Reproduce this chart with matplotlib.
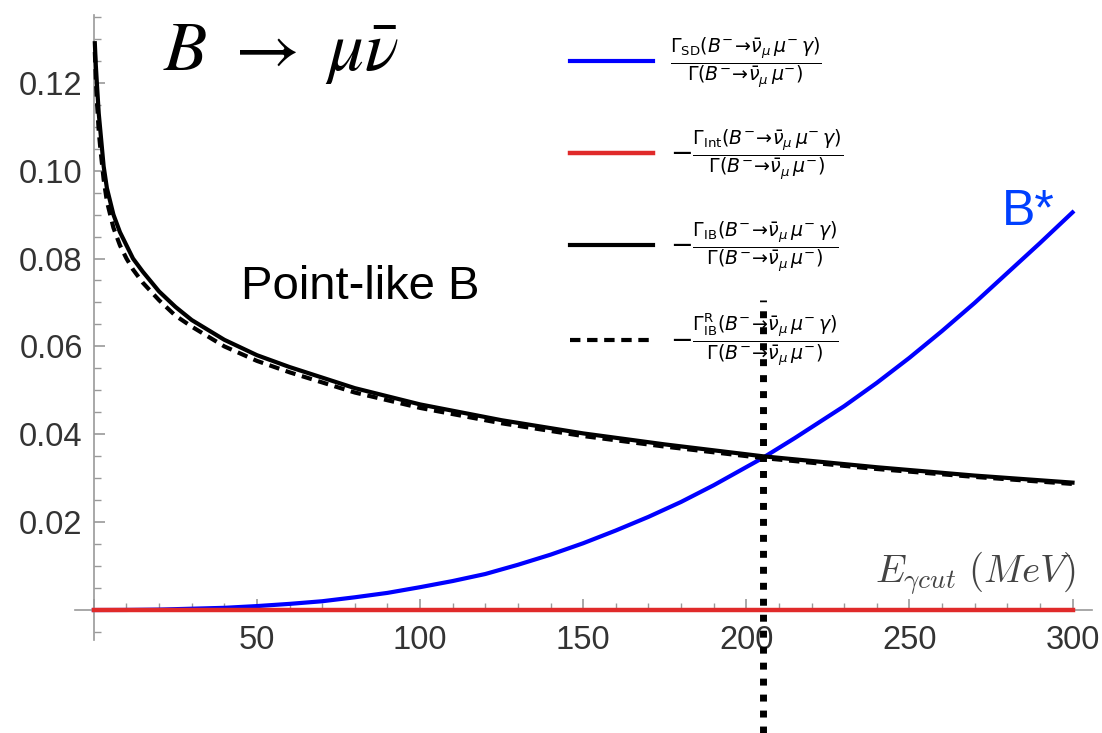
import numpy as np
import matplotlib
matplotlib.use("Agg")
import matplotlib.pyplot as plt
from matplotlib.ticker import MultipleLocator, FuncFormatter

# values
e_sd = [0, 10, 20, 30, 40, 50, 60, 70, 80, 90, 100, 110, 120, 130, 140, 150,
        160, 170, 180, 190, 205, 215, 230, 240, 250, 260, 270, 280, 290, 300]
r_sd = [0, 0.00002, 0.0001, 0.0003, 0.0005, 0.0009, 0.0014, 0.0020, 0.0029,
        0.0039, 0.0052, 0.0066, 0.0082, 0.0103, 0.0126, 0.0152, 0.0181,
        0.0212, 0.0246, 0.0284, 0.0346, 0.0392, 0.0464, 0.0517, 0.0574,
        0.0635, 0.0699, 0.0767, 0.0835, 0.0905]

e_int = [0, 300]
r_int = [0, 0]

e_ib = [0.3, 0.6, 1, 1.5, 2, 3, 4, 6, 8, 10, 12, 15, 20, 25, 30, 40, 50, 60,
        80, 100, 125, 150, 175, 205, 240, 270, 300]
r_ib = [0.129, 0.124, 0.119, 0.113, 0.109, 0.101, 0.096, 0.090, 0.086, 0.083,
        0.080, 0.077, 0.0725, 0.069, 0.066, 0.0615, 0.058, 0.0553, 0.0505,
        0.0468, 0.0432, 0.0402, 0.0377, 0.0350, 0.0325, 0.0306, 0.0290]
r_ib_r = [0.127, 0.121, 0.115, 0.109, 0.105, 0.098, 0.093, 0.087, 0.083, 0.080,
          0.0775, 0.0745, 0.0705, 0.067, 0.0645, 0.060, 0.0567, 0.0541, 0.0495,
          0.0460, 0.0425, 0.0396, 0.0372, 0.0346, 0.0321, 0.0303, 0.0287]

E_CUT = 205

den = r"\Gamma(B^{-}\!\to\!\bar{\nu}_{\mu}\,\mu^{-})"
labels = [
    r"$\frac{\Gamma_{\rm SD}(B^{-}\!\to\!\bar{\nu}_{\mu}\,\mu^{-}\,\gamma)}{" + den + "}$",
    r"$-\frac{\Gamma_{\rm Int}(B^{-}\!\to\!\bar{\nu}_{\mu}\,\mu^{-}\,\gamma)}{" + den + "}$",
    r"$-\frac{\Gamma_{\rm IB}(B^{-}\!\to\!\bar{\nu}_{\mu}\,\mu^{-}\,\gamma)}{" + den + "}$",
    r"$-\frac{\Gamma_{\rm IB}^{\rm R}(B^{-}\!\to\!\bar{\nu}_{\mu}\,\mu^{-}\,\gamma)}{" + den + "}$",
]

plt.rcParams["font.family"] = ["Liberation Sans", "DejaVu Sans"]

fig = plt.figure(figsize=(11.02, 7.33), dpi=100)
ax = fig.add_axes([0.068, 0.127, 0.923, 0.853])

l_sd, = ax.plot(e_sd, r_sd, color="#0000ff", lw=3, zorder=2)
l_ibr, = ax.plot(e_ib, r_ib_r, color="black", lw=3, dashes=(2.5, 1.6), zorder=3)
l_ib, = ax.plot(e_ib, r_ib, color="black", lw=3, zorder=4)
l_int, = ax.plot(e_int, r_int, color="#e02a2a", lw=3.2, zorder=5)

ax.axvline(E_CUT, ymin=-0.149, ymax=0.544, color="black", lw=5,
           linestyle=(0, (1, 1.3)), clip_on=False, zorder=6)

ax.set_xlim(-5.8, 306)
ax.set_ylim(-0.0068, 0.1355)

for s in ["top", "right"]:
    ax.spines[s].set_visible(False)
ax.spines["left"].set_position(("data", 0))
ax.spines["bottom"].set_position(("data", 0))
for s in ["left", "bottom"]:
    ax.spines[s].set_color("#999999")
    ax.spines[s].set_linewidth(1.2)

ax.xaxis.set_major_locator(MultipleLocator(50))
ax.xaxis.set_minor_locator(MultipleLocator(10))
ax.yaxis.set_major_locator(MultipleLocator(0.02))
ax.yaxis.set_minor_locator(MultipleLocator(0.005))
ax.xaxis.set_major_formatter(FuncFormatter(lambda v, p: "" if v == 0 else "{:.0f}".format(v)))
ax.yaxis.set_major_formatter(FuncFormatter(lambda v, p: "" if abs(v) < 1e-9 else "{:.2f}".format(v)))
ax.tick_params(which="both", direction="in", color="#999999", labelcolor="#333333",
               labelsize=23.5)
ax.tick_params(which="major", length=8, width=1.2)
ax.tick_params(which="minor", length=5, width=1.0)
ax.tick_params(axis="x", pad=11)
ax.tick_params(axis="y", pad=8)

ax.text(0.148, 0.9045, r"$B\ \rightarrow\ \mu\bar{\nu}$", transform=fig.transFigure,
        fontsize=51, math_fontfamily="stix", va="baseline", ha="left")
ax.text(0.219, 0.592, "Point-like B", transform=fig.transFigure,
        fontsize=34, va="baseline", ha="left")
ax.text(0.909, 0.693, "B*", transform=fig.transFigure, color="#0040ff",
        fontsize=36, va="baseline", ha="left")
ax.text(0.976, 0.205, r"$E_{\gamma cut}\ (MeV)$", transform=fig.transFigure,
        fontsize=28, math_fontfamily="cm", color="#444444", va="baseline", ha="right")

leg = ax.legend([l_sd, l_int, l_ib, l_ibr], labels, loc="upper left",
                bbox_to_anchor=(0.495, 0.985), bbox_transform=fig.transFigure,
                frameon=False, handlelength=3.08, handletextpad=0.62,
                labelspacing=1.38, prop={"family": "DejaVu Sans", "size": 19.5})

fig.savefig("out.png", dpi=100)
